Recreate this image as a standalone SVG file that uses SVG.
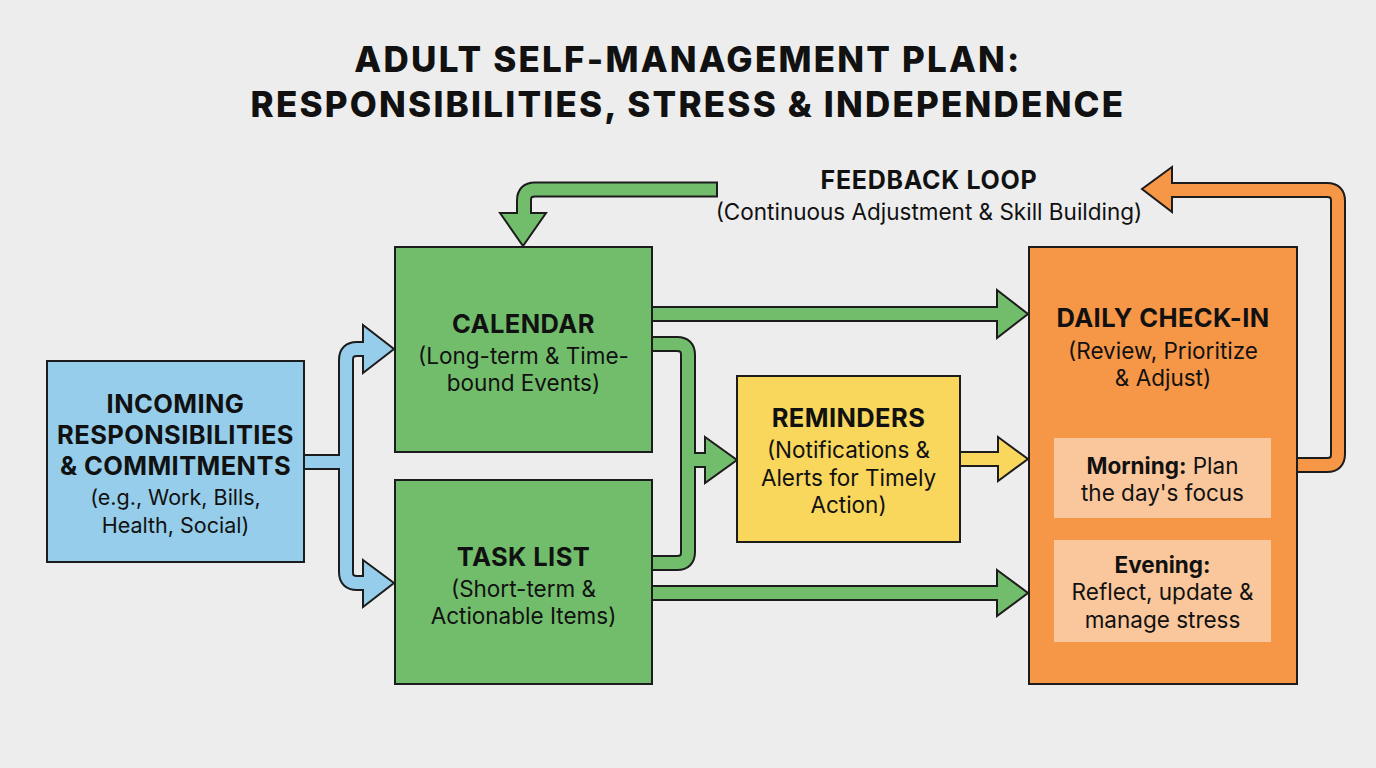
<svg xmlns="http://www.w3.org/2000/svg" width="1376" height="768" viewBox="0 0 1376 768">
<style>
.bg{fill:#ededed}
.box{stroke:#1c1c1c;stroke-width:2}
.blue{fill:#95cdea}
.green{fill:#72bd6c}
.yellow{fill:#f8d75c}
.orange{fill:#f69647}
.sub{fill:#f9c79b}
.ol{fill:none;stroke:#1c1c1c;stroke-linejoin:round}
.fb{fill:none;stroke:#95cdea;stroke-linejoin:round}
.fg{fill:none;stroke:#72bd6c;stroke-linejoin:round}
.fy{fill:none;stroke:#f8d75c}
.fo{fill:none;stroke:#f69647;stroke-linejoin:round}
.head{stroke:#1c1c1c;stroke-width:2;stroke-linejoin:miter}
text{font-family:Inter,"Liberation Sans",sans-serif;fill:#111;text-anchor:middle}
.title{font-size:35px;font-weight:800;letter-spacing:2.2px}
.h{font-size:25.5px;font-weight:700;letter-spacing:0.4px}
.t{font-size:22.5px;font-weight:400}
.ti{font-size:21.5px;font-weight:400}
.b{font-weight:700}
</style>
<rect class="bg" x="0" y="0" width="1376" height="768"/>
<g id="title">
<text class="title" x="688" y="72">ADULT SELF-MANAGEMENT PLAN:</text>
<text class="title" x="688" y="117">RESPONSIBILITIES, STRESS &amp; INDEPENDENCE</text>
</g>
<g id="connectors">
<g class="ol" stroke-width="16">
<path d="M300 462 H346 M346 462 V360 Q346 349 357 349 H368 M346 462 V572 Q346 583 357 583 H368"/>
<path d="M648 344 H677 Q688 344 688 355 V460 H710 M648 563 H677 Q688 563 688 552 V460"/>
<path d="M648 314 H1002 M648 593 H1002"/>
<path d="M956 459 H1003"/>
<path d="M718 189.5 H535 Q524 189.5 524 200.5 V218"/>
<path d="M1293 465 H1327 Q1338 465 1338 454 V201 Q1338 190 1327 190 H1168"/>
</g>
<polygon class="head blue" points="363,325 394,349 363,373"/>
<polygon class="head blue" points="363,560 394,583 363,607"/>
<polygon class="head green" points="705,437 737,460 705,483"/>
<polygon class="head green" points="997,290 1028,314 997,338"/>
<polygon class="head green" points="997,570 1028,593 997,616"/>
<polygon class="head yellow" points="998,437 1028,459 998,481"/>
<polygon class="head green" points="500,213 523,246 546,213"/>
<polygon class="head orange" points="1172,167 1142,189 1172,212"/>
<g stroke-width="12">
<path class="fb" d="M300 462 H346 M346 462 V360 Q346 349 357 349 H370 M346 462 V572 Q346 583 357 583 H370"/>
<path class="fg" d="M648 344 H677 Q688 344 688 355 V460 H712 M648 563 H677 Q688 563 688 552 V460"/>
<path class="fg" d="M648 314 H1004 M648 593 H1004"/>
<path class="fy" d="M956 459 H1005"/>
<path class="fg" d="M716 189.5 H535 Q524 189.5 524 200.5 V220"/>
<path class="fo" d="M1293 465 H1327 Q1338 465 1338 454 V201 Q1338 190 1327 190 H1166"/>
</g>
</g>
<g id="feedback-label">
<text class="h" x="929" y="189" style="font-size:25px;letter-spacing:0.7px">FEEDBACK LOOP</text>
<text class="t" x="929" y="220">(Continuous Adjustment &amp; Skill Building)</text>
</g>
<g id="incoming">
<rect class="box blue" x="47" y="361" width="257" height="201"/>
<text class="h" x="175.5" y="413">INCOMING</text>
<text class="h" x="175.5" y="444">RESPONSIBILITIES</text>
<text class="h" x="175.5" y="475">&amp; COMMITMENTS</text>
<text class="ti" x="175.5" y="505">(e.g., Work, Bills,</text>
<text class="ti" x="175.5" y="533">Health, Social)</text>
</g>
<g id="calendar">
<rect class="box green" x="395" y="247" width="257" height="205"/>
<text class="h" x="523.5" y="333">CALENDAR</text>
<text class="t" x="523.5" y="364">(Long-term &amp; Time-</text>
<text class="t" x="523.5" y="391">bound Events)</text>
</g>
<g id="tasklist">
<rect class="box green" x="395" y="480" width="257" height="204"/>
<text class="h" x="523.5" y="566">TASK LIST</text>
<text class="t" x="523.5" y="597">(Short-term &amp;</text>
<text class="t" x="523.5" y="624">Actionable Items)</text>
</g>
<g id="reminders">
<rect class="box yellow" x="737" y="376" width="223" height="166"/>
<text class="h" x="848.5" y="427">REMINDERS</text>
<text class="t" x="848.5" y="458">(Notifications &amp;</text>
<text class="t" x="848.5" y="486">Alerts for Timely</text>
<text class="t" x="848.5" y="513">Action)</text>
</g>
<g id="daily-checkin">
<rect class="box orange" x="1029" y="247" width="268" height="437"/>
<text class="h" x="1163" y="327">DAILY CHECK-IN</text>
<text class="t" x="1163" y="359">(Review, Prioritize</text>
<text class="t" x="1163" y="386">&amp; Adjust)</text>
<g id="morning">
<rect class="sub" x="1054" y="438" width="217" height="80"/>
<text class="t" x="1162.5" y="474"><tspan class="b">Morning:</tspan> Plan</text>
<text class="t" x="1162.5" y="501">the day's focus</text>
</g>
<g id="evening">
<rect class="sub" x="1054" y="540" width="217" height="102"/>
<text class="t b" x="1162.5" y="573">Evening:</text>
<text class="t" x="1162.5" y="600">Reflect, update &amp;</text>
<text class="t" x="1162.5" y="628">manage stress</text>
</g>
</g>
</svg>
